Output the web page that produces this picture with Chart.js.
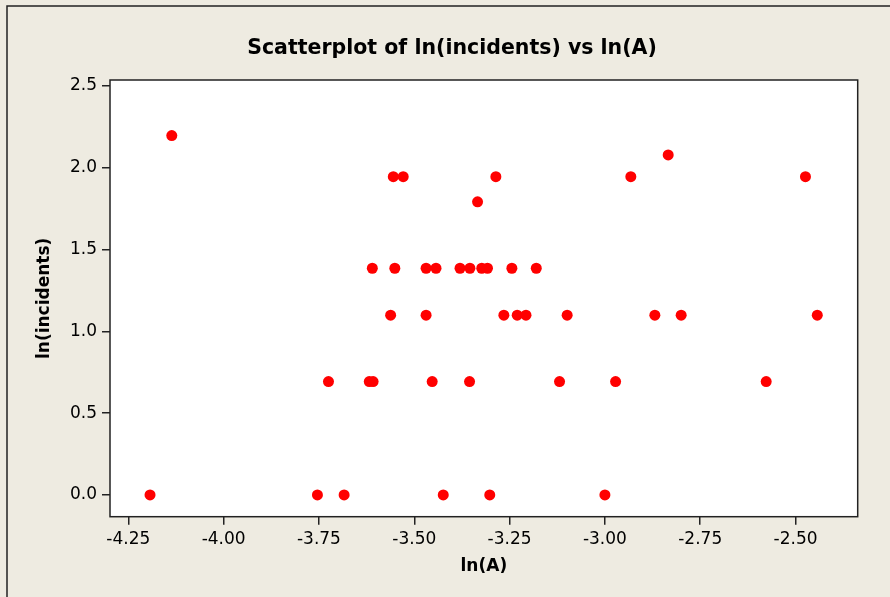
<!DOCTYPE html>
<html>
<head>
<meta charset="utf-8">
<script src="https://cdn.jsdelivr.net/npm/chart.js@4/dist/chart.umd.min.js"></script>
<style>
  html, body { margin: 0; padding: 0; background: #eeebe1; }
  #wrap { position: relative; width: 890px; height: 597px; }
</style>
</head>
<body>
<div id="wrap"><canvas id="scatterChart" width="890" height="597"></canvas></div>
<script>
// ln(A) values, grouped by ln(incidents) level
var xAtZero  = [-4.193, -3.754, -3.684, -3.424, -3.302, -3.000];
var xAtLn2   = [-3.725, -3.618, -3.608, -3.453, -3.355, -3.119, -2.972, -2.577];
var xAtLn3   = [-3.562, -3.469, -3.265, -3.230, -3.207, -3.099, -2.869, -2.800, -2.443];
var xAtLn4   = [-3.610, -3.551, -3.469, -3.443, -3.380, -3.354, -3.323, -3.308, -3.244, -3.180];
var xAtLn6   = [-3.334];
var xAtLn7   = [-3.555, -3.529, -3.286, -2.932, -2.474];
var xAtLn8   = [-2.834];
var xAtLn9   = [-4.136];

var yLevels  = [0, 0.693, 1.099, 1.386, 1.792, 1.946, 2.079, 2.197];
var xGroups  = [xAtZero, xAtLn2, xAtLn3, xAtLn4, xAtLn6, xAtLn7, xAtLn8, xAtLn9];

var xTicks = [-4.25, -4.00, -3.75, -3.50, -3.25, -3.00, -2.75, -2.50];
var yTicks = [0.0, 0.5, 1.0, 1.5, 2.0, 2.5];

var points = [];
xGroups.forEach(function(group, i) {
    group.forEach(function(x) {
        points.push({x: x, y: yLevels[i]});
    });
});

var FONT = "'DejaVu Sans', Verdana, sans-serif";

// beige panel with frame, white plot area with black box
var framePlugin = {
    id: 'frame',
    beforeDraw: function(chart) {
        var ctx = chart.ctx;
        var a = chart.chartArea;
        ctx.save();
        ctx.fillStyle = '#eeebe1';
        ctx.fillRect(0, 0, chart.width, chart.height);
        ctx.strokeStyle = '#222';
        ctx.lineWidth = 1.5;
        ctx.strokeRect(7, 6, chart.width + 10, chart.height + 10);
        ctx.fillStyle = '#ffffff';
        ctx.fillRect(a.left, a.top, a.right - a.left, a.bottom - a.top);
        ctx.restore();
    },
    afterDatasetsDraw: function(chart) {
        var ctx = chart.ctx;
        var a = chart.chartArea;
        ctx.save();
        ctx.strokeStyle = '#222';
        ctx.lineWidth = 1.5;
        ctx.strokeRect(a.left, a.top, a.right - a.left, a.bottom - a.top);
        ctx.restore();
    }
};

var ctx = document.getElementById('scatterChart').getContext('2d');
var scatterChart = new Chart(ctx, {
    type: 'scatter',
    data: {
        datasets: [{
            data: points,
            backgroundColor: '#ff0000',
            borderWidth: 0,
            pointRadius: 5.5,
            pointHoverRadius: 5.5
        }]
    },
    options: {
        responsive: false,
        animation: false,
        events: [],
        layout: { padding: { left: 14, right: 0, top: 0, bottom: 0 } },
        plugins: {
            legend: { display: false },
            tooltip: { enabled: false },
            title: {
                display: true,
                text: 'Scatterplot of ln(incidents) vs ln(A)',
                color: '#000',
                font: { family: FONT, size: 20.5, weight: 'bold' },
                padding: { top: 36, bottom: 19.4 }
            }
        },
        scales: {
            x: {
                type: 'linear',
                min: -4.298,
                max: -2.337,
                afterBuildTicks: function(scale) {
                    scale.ticks = xTicks.map(function(v) { return {value: v}; });
                },
                afterFit: function(scale) { scale.height = 597 - 516.7; },
                grid: { drawOnChartArea: false, drawTicks: true, tickLength: 8, color: '#222', lineWidth: 1.5 },
                border: { display: false },
                ticks: {
                    color: '#000',
                    padding: 5,
                    maxRotation: 0,
                    font: { family: FONT, size: 17 },
                    callback: function(value) { return value.toFixed(2); }
                },
                title: {
                    display: true,
                    text: 'ln(A)',
                    color: '#000',
                    font: { family: FONT, size: 17, weight: 'bold' },
                    padding: { top: 0, bottom: 19.8 }
                }
            },
            y: {
                type: 'linear',
                min: -0.133,
                max: 2.537,
                afterBuildTicks: function(scale) {
                    scale.ticks = yTicks.map(function(v) { return {value: v}; });
                },
                afterFit: function(scale) { scale.width = 110 - 14; },
                grid: { drawOnChartArea: false, drawTicks: true, tickLength: 8, color: '#222', lineWidth: 1.5 },
                border: { display: false },
                ticks: {
                    color: '#000',
                    padding: 5,
                    font: { family: FONT, size: 17 },
                    callback: function(value) { return value.toFixed(1); }
                },
                title: {
                    display: true,
                    text: 'ln(incidents)',
                    color: '#000',
                    font: { family: FONT, size: 17, weight: 'bold' },
                    padding: { top: 20.8, bottom: 0 }
                }
            },
            // empty right axis keeps the margin on the right side
            yRight: {
                type: 'linear',
                position: 'right',
                display: true,
                grid: { display: false },
                border: { display: false },
                ticks: { display: false },
                afterFit: function(scale) { scale.width = 890 - 857.7; }
            }
        }
    },
    plugins: [framePlugin]
});
</script>
</body>
</html>
